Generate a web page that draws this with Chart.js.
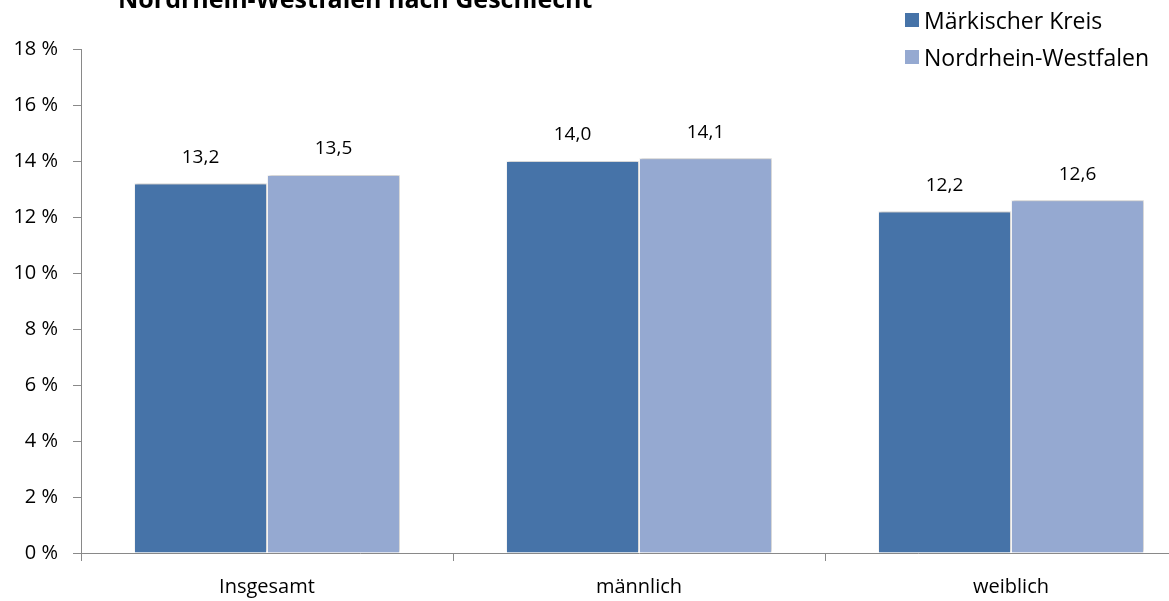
<!DOCTYPE html>
<html>
<head>
<meta charset="utf-8">
<script src="https://cdn.jsdelivr.net/npm/chart.js@4.4.0/dist/chart.umd.min.js"></script>
<style>
  html, body { margin: 0; padding: 0; background: #fff; overflow: hidden; }
  #wrap { position: relative; width: 1169px; height: 601px; overflow: hidden; }
  #box { position: absolute; left: 0; top: 0; width: 1200px; height: 601px; }
  #legend { position: absolute; left: 905px; top: 4px; font-family: "Open Sans", sans-serif; font-size: 23px; color: #000; }
  #legend div { height: 37px; line-height: 32px; white-space: nowrap; }
  #legend span { display: inline-block; width: 14px; height: 14px; margin-right: 5px; vertical-align: 2px; }
</style>
</head>
<body>
<div id="wrap">
  <div id="box"><canvas id="chart"></canvas></div>
  <div id="legend"></div>
</div>
<script>
const titleText = "Nordrhein-Westfalen nach Geschlecht";
const categories = ["Insgesamt", "männlich", "weiblich"];
const seriesNames = ["Märkischer Kreis", "Nordrhein-Westfalen"];
const maerkischerKreis = [13.2, 14.0, 12.2];
const nrw = [13.5, 14.1, 12.6];
const colors = ["#4673A8", "#95A9D1"];
const yTicks = [0, 2, 4, 6, 8, 10, 12, 14, 16, 18];

const fontFamily = "'Open Sans', sans-serif";
const axisColor = "#898989";

// Titel ist im Original oben abgeschnitten
const titlePlugin = {
  id: "cutTitle",
  afterDraw(chart) {
    const ctx = chart.ctx;
    ctx.save();
    ctx.font = "bold 25px " + fontFamily;
    ctx.fillStyle = "#000";
    ctx.textBaseline = "alphabetic";
    ctx.textAlign = "left";
    ctx.fillText(titleText, 118, 8);
    ctx.restore();
  },
};

const valueLabels = {
  id: "valueLabels",
  afterDatasetsDraw(chart) {
    const ctx = chart.ctx;
    ctx.save();
    ctx.font = "19px " + fontFamily;
    ctx.fillStyle = "#000";
    ctx.textAlign = "center";
    ctx.textBaseline = "middle";
    chart.data.datasets.forEach((ds, i) => {
      chart.getDatasetMeta(i).data.forEach((bar, j) => {
        const txt = ds.data[j].toFixed(1).replace(".", ",");
        ctx.fillText(txt, bar.x, bar.y - 26);
      });
    });
    ctx.restore();
  },
};

const barShadow = {
  id: "barShadow",
  beforeDatasetsDraw(chart) {
    const ctx = chart.ctx;
    ctx.save();
    ctx.shadowColor = "rgba(0,0,0,0.25)";
    ctx.shadowBlur = 3;
    ctx.shadowOffsetX = 1;
    ctx.shadowOffsetY = -1;
  },
  afterDatasetsDraw(chart) {
    chart.ctx.restore();
  },
};

const legend = document.getElementById("legend");
seriesNames.forEach((name, i) => {
  const row = document.createElement("div");
  row.innerHTML = `<span style="background:${colors[i]}"></span>${name}`;
  legend.appendChild(row);
});

const ctx = document.getElementById("chart").getContext("2d");
new Chart(ctx, {
  type: "bar",
  data: {
    labels: categories,
    datasets: [
      { label: seriesNames[0], data: maerkischerKreis, backgroundColor: colors[0] },
      { label: seriesNames[1], data: nrw, backgroundColor: colors[1] },
    ].map((d) => ({
      ...d,
      borderColor: "#ffffff",
      borderWidth: 1,
      categoryPercentage: 0.715,
      barPercentage: 1.0,
    })),
  },
  options: {
    responsive: true,
    maintainAspectRatio: false,
    animation: false,
    layout: { padding: { top: 49, right: 3, left: 0, bottom: 0 } },
    plugins: { legend: { display: false }, tooltip: { enabled: false } },
    scales: {
      x: {
        grid: {
          drawOnChartArea: false,
          drawTicks: true,
          tickLength: 8,
          color: axisColor,
          offset: true,
        },
        border: { color: axisColor, width: 1 },
        ticks: { color: "#000", font: { family: fontFamily, size: 20 }, padding: 14 },
        afterFit(scale) { scale.height = 48; },
      },
      y: {
        min: 0,
        max: 18,
        afterBuildTicks(scale) { scale.ticks = yTicks.map((v) => ({ value: v })); },
        grid: { drawOnChartArea: false, drawTicks: true, tickLength: 8, color: axisColor },
        border: { color: axisColor, width: 1 },
        ticks: {
          color: "#000",
          font: { family: fontFamily, size: 20 },
          padding: 15,
          callback: (v) => v + " %",
        },
        afterFit(scale) { scale.width = 81; },
      },
    },
  },
  plugins: [barShadow, valueLabels, titlePlugin],
});
</script>
</body>
</html>
